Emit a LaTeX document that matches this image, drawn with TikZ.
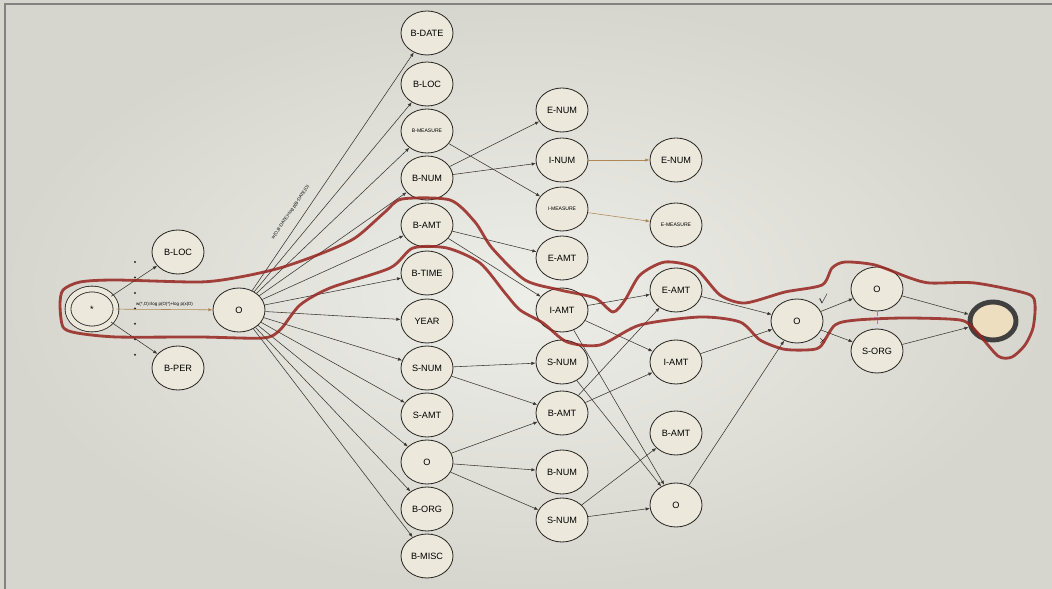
\documentclass[tikz,border=0pt]{standalone}
\usepackage{fontspec}
\setmainfont{Liberation Sans}
\usetikzlibrary{arrows.meta,shapes.geometric}
\definecolor{nodefill}{RGB}{236,232,220}
\definecolor{nodeline}{RGB}{45,42,38}
\definecolor{edgeline}{RGB}{60,55,50}
\definecolor{pathred}{RGB}{150,35,30}
\definecolor{paper}{RGB}{214,214,206}
\definecolor{paperlight}{RGB}{238,238,233}
\definecolor{tanline}{RGB}{175,135,85}
\definecolor{endfill}{RGB}{238,222,192}
\definecolor{frame}{RGB}{130,130,130}
\begin{document}
\begin{tikzpicture}[x=0.025cm,y=-0.025cm,
  tag/.style={ellipse, draw=nodeline, fill=nodefill, line width=0.6pt,
    minimum width=1.3cm, minimum height=1.1cm, inner sep=0pt,
    font=\fontsize{6.5}{7}\selectfont},
  smalltag/.style={tag, font=\fontsize{3.6}{4}\selectfont},
  weight/.style={font=\fontsize{3.2}{3.5}\selectfont, inner sep=1pt}]
\useasboundingbox (0,0) rectangle (1052,589);
\shade[inner color=paperlight, outer color=paper] (0,0) rectangle (1052,589);
\draw[frame, line width=2pt] (5,589) -- (5,4) -- (1052,4);

\begin{scope}[every node/.style = {tag}]
\node[double=nodefill, double distance=3.5pt, minimum width=1.2cm, minimum height=1.0cm] (start) at (92,309) {*};
\node (lefta) at (178,252) {B-LOC};
\node (leftb) at (178,368) {B-PER};
\node (o1) at (239,310) {O};
% second column
\node (bdate) at (427,33) {B-DATE};
\node (bloc) at (427,84) {B-LOC};
\node[smalltag] (bmeas) at (427,131) {B-MEASURE};
\node (bnum) at (427,178) {B-NUM};
\node (bamt) at (427,225) {B-AMT};
\node (btime) at (427,273) {B-TIME};
\node (year) at (427,321) {YEAR};
\node (snum) at (427,368) {S-NUM};
\node (samt) at (427,415) {S-AMT};
\node (o2) at (427,462) {O};
\node (borg) at (427,509) {B-ORG};
\node (bmisc) at (427,556) {B-MISC};
% third column
\node (enum3) at (562,110) {E-NUM};
\node (inum3) at (562,160) {I-NUM};
\node[smalltag] (imeas3) at (562,209) {I-MEASURE};
\node (eamt3) at (562,258) {E-AMT};
\node (iamt3) at (562,310) {I-AMT};
\node (snum3) at (562,362) {S-NUM};
\node (bamt3) at (562,413) {B-AMT};
\node (bnum3) at (562,472) {B-NUM};
\node (snum3b) at (562,520) {S-NUM};
% fourth column
\node (enum4) at (676,160) {E-NUM};
\node[smalltag] (emeas4) at (676,225) {E-MEASURE};
\node (eamt4) at (676,290) {E-AMT};
\node (iamt4) at (676,362) {I-AMT};
\node (bamt4) at (676,433) {B-AMT};
\node (o4) at (676,505) {O};
% last columns
\node (o5) at (797,321) {O};
\node (o6) at (877,289) {O};
\node (sorg) at (877,351) {S-ORG};
\node[line width=3.5pt, draw=black!75, fill=endfill, minimum width=1.15cm, minimum height=0.95cm] (final) at (993,321) {};
\end{scope}

\coordinate (dottop) at (135,262);
\coordinate (dotbot) at (135,358);
\draw[nodeline, line width=1.6pt, line cap=round, dash pattern=on 0pt off 11pt] (dottop) -- (dotbot);
\draw[tanline, dashed, line width=0.4pt] (o6) -- (sorg);

\begin{scope}[every edge/.style = {draw=edgeline, line width=0.4pt, -{Latex[length=3pt,width=2.4pt]}}]
\path (start) edge (lefta);
\path (start) edge (leftb);
\path (start) edge[draw=tanline] node[weight, anchor=south, yshift=1pt] {w(*,O)=log p(O|*)+log p(x|O)} (o1);
\path (o1) edge node[weight, sloped, above=6pt, pos=0.3] {w(O,B-DATE)=log p(B-DATE|O)} (bdate);
\path (o1) edge (bloc);
\path (o1) edge (bmeas);
\path (o1) edge (bnum);
\path (o1) edge (bamt);
\path (o1) edge (btime);
\path (o1) edge (year);
\path (o1) edge (snum);
\path (o1) edge (samt);
\path (o1) edge (o2);
\path (o1) edge (borg);
\path (o1) edge (bmisc);
\path (bmeas) edge (imeas3);
\path (bnum) edge (enum3);
\path (bnum) edge (inum3);
\path (bamt) edge (eamt3);
\path (bamt) edge (iamt3);
\path (snum) edge (snum3);
\path (snum) edge (bamt3);
\path (o2) edge (bamt3);
\path (o2) edge (bnum3);
\path (o2) edge (snum3b);
\path (inum3) edge[draw=tanline] (enum4);
\path (imeas3) edge[draw=tanline] (emeas4);
\path (iamt3) edge (eamt4);
\path (iamt3) edge (iamt4);
\path (iamt3) edge (o4);
\path (snum3) edge (o4);
\path (bamt3) edge (eamt4);
\path (bamt3) edge (iamt4);
\path (snum3b) edge (bamt4);
\path (snum3b) edge (o4);
\path (eamt4) edge (o5);
\path (iamt4) edge (o5);
\path (o4) edge (o5);
\path (o5) edge node[pos=0.3, above left=-1pt, font=\scriptsize] {$\surd$} (o6);
\path (o5) edge node[pos=0.3, below left=-1pt, font=\scriptsize] {$\times$} (sorg);
\path (o6) edge (final);
\path (sorg) edge (final);
\end{scope}

% the highlighted best path
\draw[pathred, line width=2pt, opacity=0.85] plot[smooth cycle, tension=0.45] coordinates {
 (63,290) (80,282) (115,280) (200,282) (240,277) (280,268) (320,254) (355,238)
 (385,212) (402,199) (450,200) (475,222) (492,248) (525,280) (560,290) (595,298)
 (613,312) (625,300) (640,275) (665,262) (695,268) (720,295) (745,303) (785,292)
 (822,285) (832,268) (845,262) (875,265) (910,278) (930,283) (975,283) (1028,294)
 (1035,305) (1033,328) (1025,345) (1012,357) (998,356) (975,330) (960,320) (905,318)
 (857,320) (835,325) (820,347) (805,350) (783,349) (760,340) (740,322) (700,317)
 (640,325) (600,345) (567,342) (543,323) (520,310) (505,293) (480,263) (447,248)
 (413,248) (390,268) (330,288) (300,305) (280,330) (263,338) (200,337) (117,337)
 (77,333) (63,327) (60,305)};
\end{tikzpicture}
\end{document}
